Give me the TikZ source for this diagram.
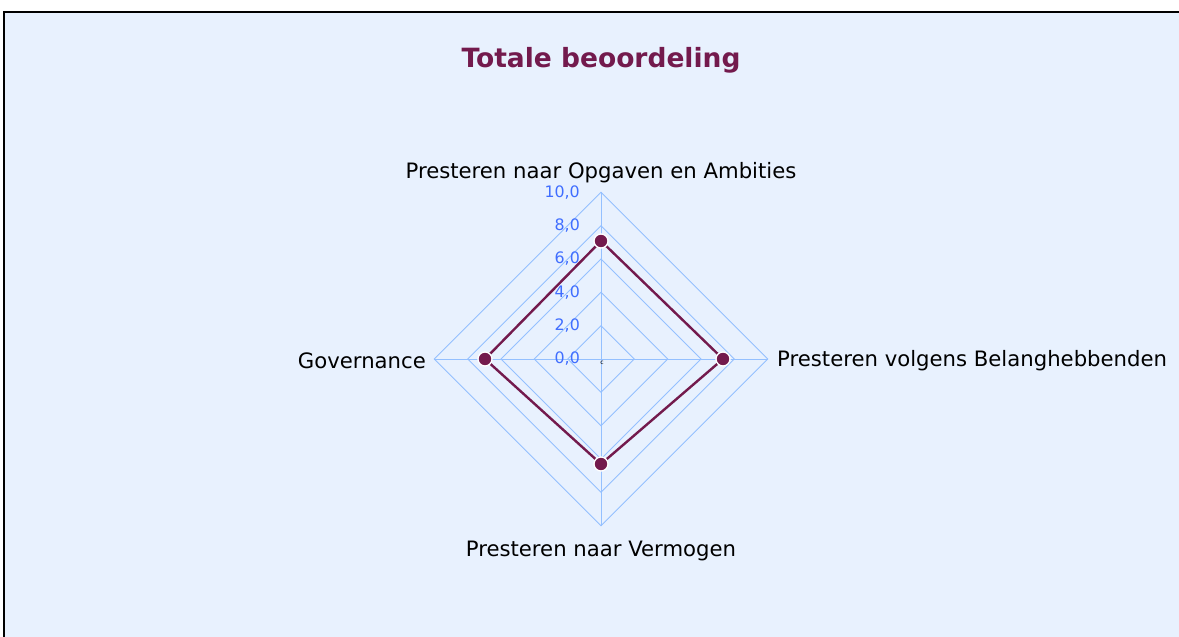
\documentclass[tikz,border=0pt]{standalone}
\usepackage{fontspec}
\setmainfont{DejaVu Sans}
\definecolor{plotbg}{RGB}{232,241,254}
\definecolor{gridblue}{RGB}{148,192,255}
\definecolor{ticktext}{RGB}{64,110,255}
\definecolor{serie}{RGB}{115,26,77}
\tikzset{
  ring/.style={draw=gridblue,line width=0.9pt},
  ticklabel/.style={anchor=east,text=ticktext,inner sep=0pt,font=\fontsize{15.8}{16}\selectfont},
  axislabel/.style={inner sep=0pt,font=\fontsize{21.2}{22}\selectfont},
  serieline/.style={draw=serie,line width=2.4pt,line join=round},
  datadot/.style={circle,fill=serie,draw=white,line width=1.3pt,minimum size=14pt,inner sep=0pt},
}
\begin{document}
\begin{tikzpicture}[x=1pt,y=1pt]
\useasboundingbox (0,0) rectangle (1179,-637);
\fill [plotbg] (4,-12) rectangle (1179,-637);
\draw [black,line width=2pt] (4,-637) -- (4,-12) -- (1179,-12);

\node [font=\bfseries\fontsize{26.5}{28}\selectfont,text=serie] (title) at (601,-60) {Totale beoordeling};

\begin{scope}[shift={(601,-359)}]
% grid
\draw [ring] (0,33.33) -- (33.33,0) -- (0,-33.33) -- (-33.33,0) -- cycle;
\draw [ring] (0,66.67) -- (66.67,0) -- (0,-66.67) -- (-66.67,0) -- cycle;
\draw [ring] (0,100) -- (100,0) -- (0,-100) -- (-100,0) -- cycle;
\draw [ring] (0,133.33) -- (133.33,0) -- (0,-133.33) -- (-133.33,0) -- cycle;
\draw [ring] (0,166.67) -- (166.67,0) -- (0,-166.67) -- (-166.67,0) -- cycle;
\draw [ring] (0,166.67) -- (0,-166.67);
\draw [ring] (-166.67,0) -- (166.67,0);

\node [ticklabel] (t0) at (-21,0) {0,0};
\node [ticklabel] (t2) at (-21,33.33) {2,0};
\node [ticklabel] (t4) at (-21,66.67) {4,0};
\node [ticklabel] (t6) at (-21,100) {6,0};
\node [ticklabel] (t8) at (-21,133.33) {8,0};
\node [ticklabel] (t10) at (-21,166.67) {10,0};
\node [inner sep=0pt,font=\fontsize{6}{6}\selectfont] (mid) at (1,-4) {c};

\node [axislabel] (opgaven) at (0,186.5) {Presteren naar Opgaven en Ambities};
\node [axislabel,anchor=west] (belang) at (176,-1.5) {Presteren volgens Belanghebbenden};
\node [axislabel] (vermogen) at (0,-191.5) {Presteren naar Vermogen};
\node [axislabel,anchor=east] (governance) at (-175,-1.5) {Governance};

% scores
\coordinate (s1) at (0,118);
\coordinate (s2) at (122,0);
\coordinate (s3) at (0,-105);
\coordinate (s4) at (-116,0);
\draw [serieline] (s1) -- (s2) -- (s3) -- (s4) -- cycle;
\node [datadot] (d1) at (s1) {};
\node [datadot] (d2) at (s2) {};
\node [datadot] (d3) at (s3) {};
\node [datadot] (d4) at (s4) {};
\end{scope}
\end{tikzpicture}
\end{document}
